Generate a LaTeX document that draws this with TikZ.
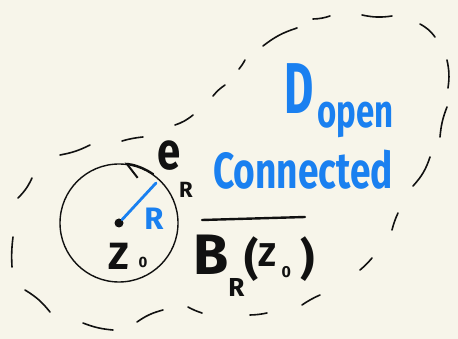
\documentclass[tikz,border=0pt]{standalone}
\usepackage{fontspec}
\setmainfont{Fira Sans}
\usetikzlibrary{arrows.meta, positioning}
\definecolor{paper}{HTML}{F7F5EA}
\definecolor{ink}{HTML}{111111}
\definecolor{pen}{HTML}{1A80F0}

\begin{document}
\begin{tikzpicture}[
    x=1pt, y=-1pt,
    dashline/.style={line width=1.6pt, ink, line cap=round},
    rimline/.style={line width=1.4pt, ink},
    radline/.style={line width=2.8pt, pen, line cap=round},
    hand/.style={inner sep=0pt, text=ink, execute at begin node=\bfseries},
    note/.style={inner sep=0pt, text=pen, execute at begin node=\bfseries}
  ]
    \fill[paper] (0,0) rectangle (458,339);
    \useasboundingbox (0,0) rectangle (458,339);

    % closed ball and its centre
    \node[circle, draw, rimline, minimum size=118pt, inner sep=0pt] (ball) at (119,223) {};
    \node[circle, fill=ink, minimum size=9pt, inner sep=0pt] (ctr) at (ball.center) {};
    \coordinate (rim) at (156,183);
    \draw[radline] (ctr) -- (rim);
    \node[note, font=\fontsize{31}{31}\selectfont] (rlab) at (154,219) {R};

    % orientation of the boundary
    \draw[rimline, line width=2pt, line cap=round,
          -{Straight Barb[harpoon, length=12pt, width=26pt]}]
      (ball.55) arc[start angle=-55, end angle=-85, radius=59];
    \node[hand, font=\fontsize{42}{42}\selectfont] (e) at (169,156) {\scalebox{1}[1.25]{e}};
    \node[hand, font=\fontsize{22}{22}\selectfont] (eR) at (186,190) {R};

    \node[hand, font=\fontsize{38}{38}\selectfont] (z) at (119,256) {Z};
    \node[hand, font=\fontsize{15}{15}\selectfont] (zsub) at (143,262) {0};

    % the domain
    \node[note, font=\fontsize{45}{45}\selectfont] (dom) at (299,89) {\scalebox{1}[1.6]{D}};
    \node[note, anchor=base west, font=\fontsize{32}{32}\selectfont] (open) at (317,128)
      {\scalebox{1.03}[1.45]{open}};
    \node[note, anchor=base west, font=\fontsize{35}{35}\selectfont] (conn) at (213,189)
      {\scalebox{1.06}[1.45]{Connected}};

    % closure of the ball
    \node[hand, anchor=base west] (clos) at (193,275)
      {{\fontsize{57}{57}\selectfont B}\raisebox{-22pt}{\fontsize{26}{26}\selectfont R}%
       {\fontsize{44}{44}\selectfont(}\raisebox{8pt}{\fontsize{33}{33}\selectfont Z}%
       \hspace{5pt}\raisebox{-2pt}{\fontsize{16}{16}\selectfont 0}%
       \hspace{9pt}{\fontsize{44}{44}\selectfont)}};
    \draw[line width=2.4pt, ink, line cap=round] (202,220) -- (305,217);

    % boundary of D, hand dashed
    \foreach \xa/\ya/\xb/\yb/\bnd in {12/267/13/237/5, 18/198/32/178/-10, 60/155/90/145/-8,
        122/141/143/137/5, 175/125/193/115/-10, 213/96/225/85/8, 239/69/245/60/-5,
        263/46/297/28/10, 313/19/330/16/-8, 362/15/392/16/-10, 420/24/435/37/12,
        447/60/448/88/10, 447/107/440/137/-8, 430/157/413/186/12, 398/213/392/230/-5,
        372/258/360/270/5, 320/295/302/305/-5, 267/313/250/315/5, 202/313/188/307/5,
        163/310/137/322/-10, 113/330/83/323/8, 50/312/25/290/-10} {
      \draw[dashline] (\xa,\ya) to[bend left=\bnd] (\xb,\yb);
    }
  \end{tikzpicture}
\end{document}
